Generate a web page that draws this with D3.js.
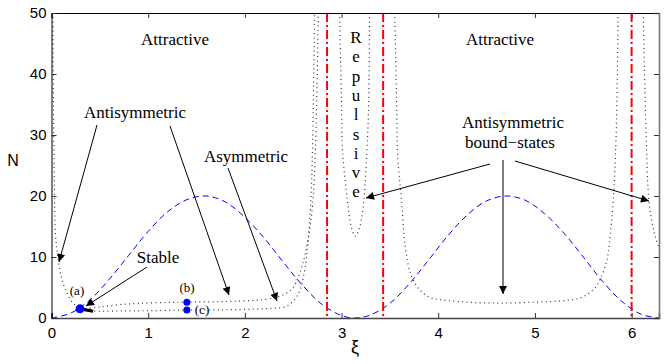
<!DOCTYPE html>
<html>
<head>
<meta charset="UTF-8">
<title>N vs xi</title>
<style>
html, body { margin:0; padding:0; background:#fff; }
.tick text { font-family: "Liberation Sans", Arial, sans-serif; font-size: 15px; }
.note { font-family: "Liberation Serif", "Times New Roman", serif; font-size: 17px; fill:#000; }
.small { font-family: "Liberation Serif", "Times New Roman", serif; font-size: 13px; fill:#000; }
</style>
<script src="https://cdnjs.cloudflare.com/ajax/libs/d3/7.8.5/d3.min.js"></script>
</head>
<body>
<script>
// blue dashed curve [xi, N]
const dashedCurve = [[0,0],[0.2,0.8],[0.4,3],[0.6,6.4],[0.8,10.3],[1.0,14.2],[1.2,17.4],[1.4,19.4],[1.6,20],
  [1.8,19.0],[2.0,16.5],[2.2,13.1],[2.4,9.1],[2.6,5.3],[2.8,2.2],[3.0,0.4],[3.14,0],[3.3,0.5],[3.5,2.4],
  [3.7,5.6],[3.9,9.5],[4.1,13.5],[4.3,16.9],[4.5,19.2],[4.7,20],[4.9,19.3],[5.1,17.1],[5.3,13.9],[5.5,10.0],
  [5.7,6.0],[5.9,2.7],[6.1,0.6],[6.283,0]];

// dotted branches
const leftBranch = [[0.015,50],[0.02,35],[0.03,22],[0.04,14],[0.07,9.5],[0.11,6.2],[0.16,4.1],[0.22,2.5],[0.3,1.5],
  [0.42,1.15],[0.7,1.15],[1.0,1.2],[1.4,1.3],[1.8,1.35],[2.1,1.45],[2.3,1.6],[2.43,1.9],[2.52,3.2],[2.57,4.6],
  [2.62,8],[2.65,12],[2.68,18.5],[2.70,28],[2.72,50]];
const upperBranch = [[0.35,1.5],[0.5,1.8],[0.7,2.2],[0.9,2.4],[1.2,2.55],[1.4,2.6],[1.8,2.7],[2.1,2.9],[2.3,3.3],
  [2.42,4],[2.5,5],[2.6,9],[2.66,13.5],[2.70,18.5],[2.73,28],[2.76,50]];
const innerU = [[2.98,50],[3.0,35],[3.01,27.5],[3.06,19.3],[3.10,15],[3.14,13.4],[3.18,14.5],[3.22,17.7],[3.26,26.7],[3.28,35],[3.29,50]];
const rightU = [[3.55,50],[3.57,35],[3.58,26.7],[3.62,19.3],[3.66,11.6],[3.72,7],[3.81,4.6],[3.91,3.4],[4.02,3.0],
  [4.3,2.6],[4.64,2.45],[5.0,2.6],[5.26,2.8],[5.47,3.3],[5.6,4.6],[5.67,6.2],[5.74,9.2],[5.77,12.3],[5.81,19.3],[5.84,30],[5.86,50]];
const farRight = [[6.12,50],[6.15,30],[6.18,19],[6.22,15],[6.25,13],[6.283,11.5]];

const stableSeg = [[0.3,1.5],[0.43,1.1]];
const redLines = [2.85, 3.43, 6.0];
const points = [{k:'(a)', x:0.295, y:1.5, r:4.5}, {k:'(b)', x:1.4, y:2.6, r:3.5}, {k:'(c)', x:1.4, y:1.3, r:3.5}];

const xTicks = [0,1,2,3,4,5,6];
const yTicks = [0,10,20,30,40,50];

const W = 664, H = 364;
const m = {l:51.5, r:5, t:13, b:46};
const x = d3.scaleLinear().domain([0, 2*Math.PI]).range([m.l, W - m.r]);
const y = d3.scaleLinear().domain([0, 50]).range([H - m.b, m.t]);

const svg = d3.select('body').append('svg').attr('width', W).attr('height', H);
const defs = svg.append('defs');
defs.append('clipPath').attr('id', 'clip').append('rect')
  .attr('x', x(0)).attr('y', y(50)).attr('width', x(2*Math.PI) - x(0)).attr('height', y(0) - y(50));
defs.append('marker').attr('id', 'arr').attr('viewBox', '0 0 10 10').attr('refX', 10).attr('refY', 5)
  .attr('markerWidth', 11).attr('markerHeight', 8).attr('markerUnits', 'userSpaceOnUse').attr('orient', 'auto')
  .append('path').attr('d', 'M0 0 L10 5 L0 10 Z').attr('fill', '#000');

const plot = svg.append('g').attr('clip-path', 'url(#clip)');
const line = d3.line().x(d => x(d[0])).y(d => y(d[1])).curve(d3.curveCatmullRom);

plot.append('path').datum(dashedCurve).attr('d', line).attr('fill', 'none')
  .attr('stroke', '#0000ff').attr('stroke-width', 1).attr('stroke-dasharray', '6,4');

[leftBranch, upperBranch, innerU, rightU, farRight].forEach(c => {
  plot.append('path').datum(c).attr('d', line).attr('fill', 'none')
    .attr('stroke', '#333').attr('stroke-width', 1.2).attr('stroke-dasharray', '1,3.4');
});

plot.selectAll('.red').data(redLines).enter().append('line')
  .attr('x1', d => x(d)).attr('x2', d => x(d)).attr('y1', y(50)).attr('y2', y(0))
  .attr('stroke', '#ff0000').attr('stroke-width', 2).attr('stroke-dasharray', '9,3,2,3');

plot.append('path').datum(stableSeg).attr('d', d3.line().x(d => x(d[0])).y(d => y(d[1])))
  .attr('stroke', '#000').attr('stroke-width', 3.2).attr('fill', 'none');

plot.selectAll('.pt').data(points).enter().append('circle')
  .attr('cx', d => x(d.x)).attr('cy', d => y(d.y)).attr('r', d => d.r).attr('fill', '#0000ff');

// axes box
const xb = d3.axisBottom(x).tickValues(xTicks).tickSize(-5).tickPadding(9).tickFormat(d3.format('d'));
const xt = d3.axisTop(x).tickValues(xTicks).tickSize(-5).tickFormat('');
const yl = d3.axisLeft(y).tickValues(yTicks).tickSize(-5).tickPadding(5);
const yr = d3.axisRight(y).tickValues(yTicks).tickSize(-5).tickFormat('');
svg.append('g').attr('class', 'xb').attr('transform', `translate(0,${y(0)})`).call(xb);
svg.append('g').attr('transform', `translate(0,${y(50)})`).call(xt);
svg.append('g').attr('transform', `translate(${x(0)},0)`).call(yl);
svg.append('g').attr('class', 'yr').attr('transform', `translate(${x(2*Math.PI)},0)`).call(yr);
svg.selectAll('.domain').attr('stroke', '#000');
svg.select('.xb .domain').attr('stroke', '#444').attr('stroke-width', 1.6);
svg.select('.yr .domain').attr('stroke', '#777').attr('stroke-width', 1.6);
svg.selectAll('.tick line').attr('stroke', '#333');
svg.selectAll('.tick text').attr('fill', '#000');

svg.append('text').attr('x', 355).attr('y', 353).attr('text-anchor', 'middle')
  .style('font-family', 'Liberation Sans, sans-serif').style('font-size', '18px').text('ξ');
svg.append('text').attr('x', 13).attr('y', 166).attr('text-anchor', 'middle')
  .style('font-family', 'Liberation Sans, sans-serif').style('font-size', '16px').text('N');

// annotations
const note = (tx, ty, s, cls) => svg.append('text').attr('class', cls || 'note')
  .attr('x', tx).attr('y', ty).attr('text-anchor', 'middle').text(s);
note(175, 45, 'Attractive');
note(500, 45, 'Attractive');
note(135, 118, 'Antisymmetric');
note(246, 162, 'Asymmetric');
note(158, 263, 'Stable');
note(513, 128, 'Antisymmetric');
note(510, 148, 'bound\u2212states');
note(77, 295, '(a)', 'small');
note(187, 292, '(b)', 'small');
note(202, 314, '(c)', 'small');
'Repulsive'.split('').forEach((c, i) => note(356, 43 + i * 19.3, c));

const arrows = [[[97,125],[59,262]], [[170,126],[229,295]], [[228,168],[277,301]], [[147,267],[86,306]],
  [[490,164],[366,198]], [[503,160],[503,294]], [[515,161],[649,201]]];
arrows.forEach(a => {
  svg.append('line').attr('x1', a[0][0]).attr('y1', a[0][1]).attr('x2', a[1][0]).attr('y2', a[1][1])
    .attr('stroke', '#000').attr('stroke-width', 1).attr('marker-end', 'url(#arr)');
});
</script>
</body>
</html>
